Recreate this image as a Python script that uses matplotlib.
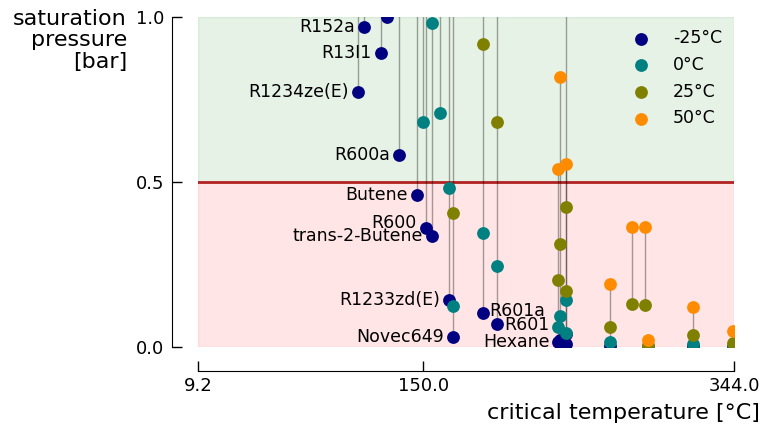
import numpy as np
import matplotlib
matplotlib.use("Agg")
import matplotlib.pyplot as plt

nan = np.nan

# fluids: name, critical temperature [°C], saturation pressure [bar] at -25/0/25/50 °C
names = ['R1234ze(E)', 'R152a', 'R13I1', '', 'R600a', 'Butene', '', 'R600',
         'trans-2-Butene', '', 'R1233zd(E)', 'Novec649', 'R601a', 'R601',
         'Hexane', '', '', '', '', '', '', '', '', '']
t_crit = [109.4, 113.2, 123.4, 127.2, 134.7, 145.9, 150.0, 151.7,
          155.6, 160.5, 166.3, 168.8, 187.1, 196.2,
          234.4, 235.2, 239.3, 239.0, 266.6, 280.2, 288.5, 290.5, 318.3, 343.2]
p_m25 = [0.772, 0.971, 0.892, 1.0, 0.582, 0.461, nan, 0.362,
         0.336, nan, 0.142, 0.029, 0.104, 0.069,
         0.016, 0.020, 0.008, 0.038, 0.003, nan, nan, 0.0, 0.003, 0.001]
p_0 = [2.17, 2.64, 2.30, 2.60, 1.57, 1.27, 0.683, 1.03,
       0.981, 0.708, 0.483, 0.125, 0.346, 0.245,
       0.062, 0.094, 0.041, 0.142, 0.016, nan, nan, 0.001, 0.009, 0.003]
p_25 = [4.99, 5.96, 4.90, 5.70, 3.50, 2.97, 1.70, 2.44,
        2.40, 1.80, 1.30, 0.406, 0.918, 0.683,
        0.203, 0.311, 0.170, 0.425, 0.062, 0.131, 0.127, 0.006, 0.036, 0.013]
p_50 = [9.97, 11.8, 9.20, 10.8, 6.80, 5.90, 3.60, 4.96,
        4.80, 3.80, 2.90, 1.10, 2.05, 1.59,
        0.539, 0.819, 0.554, 1.06, 0.190, 0.365, 0.365, 0.021, 0.122, 0.048]

temps = ['-25°C', '0°C', '25°C', '50°C']
colors = ['navy', 'teal', 'olive', 'darkorange']
x_min, x_max = 9.2, 344.0
p_limit = 0.5

plt.rcParams['font.family'] = 'DejaVu Sans'
fig = plt.figure(figsize=(7.61, 4.24), dpi=100)
ax = fig.add_axes([0.2599, 0.1816, 0.7046, 0.7783])

ax.axhspan(p_limit, 1.0, color='green', alpha=0.1, zorder=0)
ax.axhspan(0.0, p_limit, color='red', alpha=0.1, zorder=0)
ax.axhline(p_limit, color='firebrick', lw=2, zorder=1)

pressures = np.array([p_m25, p_0, p_25, p_50])
tc = np.array(t_crit)
ax.vlines(tc, np.nanmin(pressures, axis=0), np.nanmax(pressures, axis=0),
          color='k', lw=1, alpha=0.35, zorder=2)

for p, c, lab in zip(pressures, colors, temps):
    ax.scatter(tc, p, s=85, color=c, label=lab, zorder=3, linewidths=0)

# labels next to the -25°C point
right_side = {'R601a': 1.5, 'R601': -0.5}
for name, x, y in zip(names, t_crit, p_m25):
    if not name:
        continue
    if name in right_side:
        ax.annotate(name, (x, y), xytext=(5, right_side[name]),
                    textcoords='offset points',
                    ha='left', va='center', fontsize=12.5)
    else:
        dy = 3 if name == 'R600' else 0
        ax.annotate(name, (x, y), xytext=(-6.5, dy), textcoords='offset points',
                    ha='right', va='center', fontsize=12.5)

ax.set_xlim(x_min, x_max)
ax.set_ylim(0, 1)
ax.set_xticks([x_min, 150.0, x_max])
ax.set_xticklabels(['%.1f' % v for v in [x_min, 150.0, x_max]])
ax.set_yticks([0.0, 0.5, 1.0])
ax.set_yticklabels(['0.0', '0.5', '1.0'])

for s in ['top', 'right']:
    ax.spines[s].set_visible(False)
ax.spines['left'].set_position(('outward', 18.5))
ax.spines['bottom'].set_position(('outward', 17.5))
ax.spines['left'].set_bounds(0, 1)
ax.spines['bottom'].set_bounds(x_min, x_max)
ax.tick_params(direction='in', length=7.5, width=1, labelsize=13)
ax.tick_params(axis='y', pad=5.5)
ax.tick_params(axis='x', pad=4)

ax.set_ylabel('saturation\npressure\n[bar]', rotation=0, ha='right', va='top',
              fontsize=16, linespacing=1.1)
ax.yaxis.set_label_coords(-0.132, 1.025)
ax.set_xlabel('critical temperature [°C]', ha='right', fontsize=16)
ax.xaxis.set_label_coords(1.048, -0.17)

ax.legend(loc='upper right', frameon=False, fontsize=12.5, scatterpoints=1,
          labelspacing=0.5, borderaxespad=0.3)

fig.savefig('out.png', dpi=100)
